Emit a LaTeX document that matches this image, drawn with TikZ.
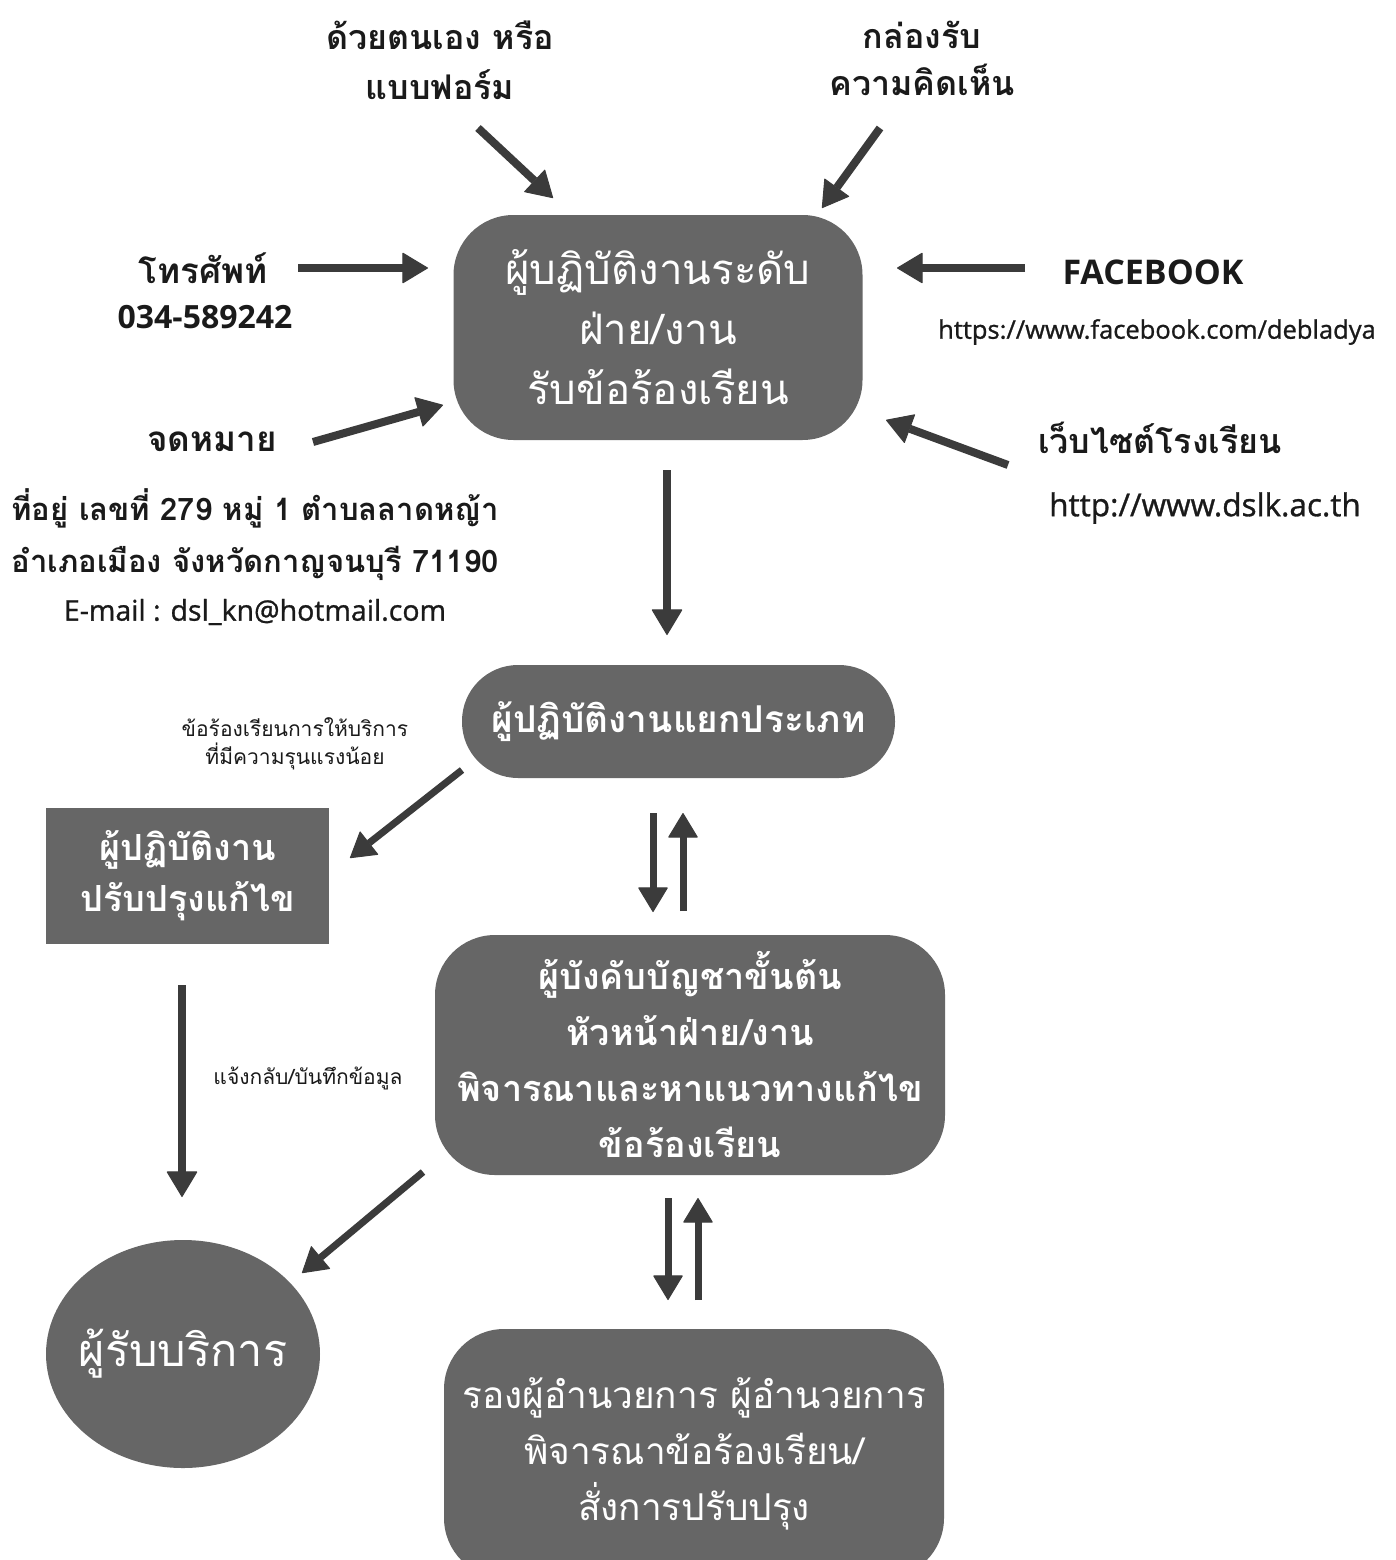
\documentclass[tikz,border=0pt]{standalone}
\usepackage{fontspec}
\usetikzlibrary{arrows.meta,shapes.geometric}
\newfontfamily\thai[Script=Thai]{Loma}
\newfontfamily\lat{Open Sans}
\newfontfamily\latm[FakeBold=1]{Open Sans}
\definecolor{boxgray}{HTML}{666666}
\definecolor{arrgray}{HTML}{3B3B3B}
\definecolor{ink}{HTML}{1A1A1A}
\begin{document}
\begin{tikzpicture}[x=1pt,y=-1pt,
  arr/.style={draw=arrgray, line width=8pt,
    -{Triangle[width=31pt,length=26pt,line width=1pt,round]}},
  thinarr/.style={draw=arrgray, line width=7pt,
    -{Triangle[width=30pt,length=25pt,line width=1pt,round]}},
  rbox/.style={fill=boxgray, text=white, align=center, inner sep=0pt, draw=none},
  lbl/.style={inner sep=0pt, text=ink, align=center}]
\fill[white] (0,0) rectangle (1395,1560);
\useasboundingbox (0,0) rectangle (1395,1560);

% boxes
\node[rbox, minimum width=409pt, minimum height=225pt, rounded corners=60pt,
  font=\thai\fontsize{42}{60}\selectfont] (b1) at (658,327.5)
  {ผู้บฏิบัติงานระดับ\\ฝ่าย/งาน\\รับข้อร้องเรียน};
\node[rbox, minimum width=433pt, minimum height=113pt, rounded corners=56pt,
  font=\thai\bfseries\fontsize{37}{50}\selectfont] (b2) at (678.5,721.5)
  {ผู้ปฏิบัติงานแยกประเภท};
\node[rbox, minimum width=283pt, minimum height=136pt,
  font=\thai\bfseries\fontsize{36}{51}\selectfont] (b3) at (187.5,876)
  {ผู้ปฏิบัติงาน\\ปรับปรุงแก้ไข};
\node[rbox, minimum width=510pt, minimum height=240pt, rounded corners=60pt,
  font=\thai\bfseries\fontsize{36}{56}\selectfont] (b4) at (690,1055)
  {ผู้บังคับบัญชาขั้นต้น\\หัวหน้าฝ่าย/งาน\\พิจารณาและหาแนวทางแก้ไข\\ข้อร้องเรียน};
\node[rbox, minimum width=500pt, minimum height=249pt, rounded corners=60pt,
  font=\thai\fontsize{37}{56}\selectfont] (b5) at (694,1453.5)
  {รองผู้อำนวยการ ผู้อำนวยการ\\พิจารณาข้อร้องเรียน/\\สั่งการปรับปรุง};
\node[rbox, ellipse, minimum width=274pt, minimum height=228pt] (cl) at (183,1354) {};
\node[rbox, fill=none, font=\thai\fontsize{45}{60}\selectfont] (cltext) at (cl.center) {ผู้รับบริการ};

% labels
\node[lbl, font=\thai\bfseries\fontsize{34}{50}\selectfont] (lself) at (440,60)
  {ด้วยตนเอง หรือ\\แบบฟอร์ม};
\node[lbl, font=\thai\bfseries\fontsize{34}{47}\selectfont] (lbox) at (922,58)
  {กล่องรับ\\ความคิดเห็น};
\node[lbl, font=\thai\bfseries\fontsize{35}{40}\selectfont] (lphone) at (203,268) {โทรศัพท์};
\node[lbl, font=\lat\bfseries\fontsize{32}{38}\selectfont] (lphonenum) at (205,317) {034-589242};
\node[lbl, font=\lat\bfseries\fontsize{34}{40}\selectfont] (lfb) at (1153,272) {FACEBOOK};
\node[lbl, font=\latm\fontsize{25.5}{30}\selectfont] (lfburl) at (1157,332) {https://www.facebook.com/debladya};
\node[lbl, font=\thai\bfseries\fontsize{35}{40}\selectfont] (lletter) at (212,442) {จดหมาย};
\node[lbl, font=\thai\bfseries\fontsize{31}{40}\selectfont] (laddr1) at (255,508) {ที่อยู่ เลขที่ 279 หมู่ 1 ตำบลลาดหญ้า};
\node[lbl, font=\thai\bfseries\fontsize{31}{40}\selectfont] (laddr2) at (255,563) {อำเภอเมือง จังหวัดกาญจนบุรี 71190};
\node[lbl, font=\latm\fontsize{28.5}{34}\selectfont] (lmail) at (255,612) {E-mail : dsl\_kn@hotmail.com};
\node[lbl, font=\thai\bfseries\fontsize{34}{40}\selectfont] (lweb) at (1160,438) {เว็บไซต์โรงเรียน};
\node[lbl, font=\latm\fontsize{31.5}{36}\selectfont] (lweburl) at (1205,508) {http://www.dslk.ac.th};
\node[lbl, font=\thai\fontsize{21}{28}\selectfont] (lminor) at (295,744)
  {ข้อร้องเรียนการให้บริการ\\ที่มีความรุนแรงน้อย};
\node[lbl, font=\thai\fontsize{21}{28}\selectfont] (lfeedback) at (308,1078) {แจ้งกลับ/บันทึกข้อมูล};

% arrow end points
\coordinate (a1s) at (478,128);  \coordinate (a1e) at (553,198);
\coordinate (a2s) at (880,128);  \coordinate (a2e) at (822,208);
\coordinate (a3s) at (298,268);  \coordinate (a3e) at (428,268);
\coordinate (a4s) at (1025,268); \coordinate (a4e) at (897,268);
\coordinate (a5s) at (313,442);  \coordinate (a5e) at (443,405);
\coordinate (a6s) at (1008,465); \coordinate (a6e) at (886,420);
\coordinate (a7s) at (667,470);  \coordinate (a7e) at (667,635);
\coordinate (a8s) at (462,770);  \coordinate (a8e) at (350,858);
\coordinate (a9s) at (182,985);  \coordinate (a9e) at (182,1197);
\coordinate (a10s) at (653,813); \coordinate (a10e) at (653,912);
\coordinate (a11s) at (683,911); \coordinate (a11e) at (683,813);
\coordinate (a12s) at (423,1172); \coordinate (a12e) at (302,1273);
\coordinate (a13s) at (668,1198); \coordinate (a13e) at (668,1300);
\coordinate (a14s) at (698,1300); \coordinate (a14e) at (698,1198);

\draw[arr] (a1s) -- (a1e);
\draw[arr] (a2s) -- (a2e);
\draw[arr] (a3s) -- (a3e);
\draw[arr] (a4s) -- (a4e);
\draw[arr] (a5s) -- (a5e);
\draw[arr] (a6s) -- (a6e);
\draw[arr] (a7s) -- (a7e);
\draw[thinarr] (a8s) -- (a8e);
\draw[arr] (a9s) -- (a9e);
\draw[thinarr] (a10s) -- (a10e);
\draw[thinarr] (a11s) -- (a11e);
\draw[thinarr] (a12s) -- (a12e);
\draw[thinarr] (a13s) -- (a13e);
\draw[thinarr] (a14s) -- (a14e);
\end{tikzpicture}
\end{document}
